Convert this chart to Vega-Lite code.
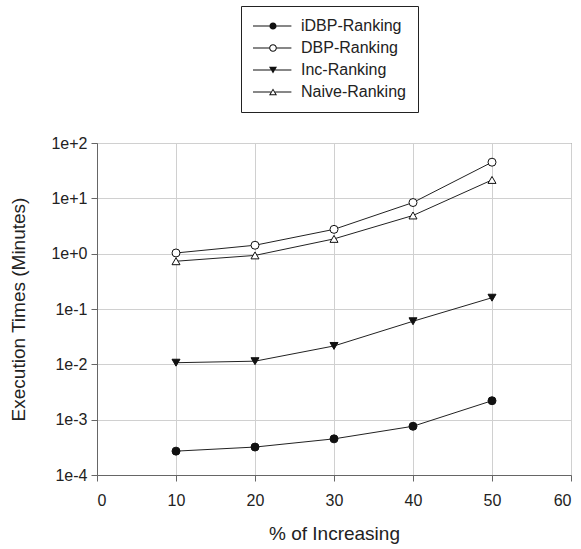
{
  "$schema": "https://vega.github.io/schema/vega-lite/v6.json",
  "width": 474,
  "height": 332,
  "autosize": "none",
  "padding": {"left": 97, "top": 143, "right": 10, "bottom": 74},
  "background": "white",
  "config": {
    "font": "Liberation Sans",
    "view": {"stroke": "#555", "strokeWidth": 1},
    "axis": {
      "domainColor": "#666",
      "tickColor": "#666",
      "tickSize": 6,
      "gridColor": "#d0d0d0",
      "gridWidth": 1,
      "labelFontSize": 16,
      "labelColor": "#222",
      "titleFontSize": 19,
      "titleFontWeight": "normal",
      "titleColor": "#222"
    }
  },
  "data": {
    "values": [
      {"series": "iDBP-Ranking", "pct": 10, "time": 0.00027},
      {"series": "iDBP-Ranking", "pct": 20, "time": 0.00032},
      {"series": "iDBP-Ranking", "pct": 30, "time": 0.00045},
      {"series": "iDBP-Ranking", "pct": 40, "time": 0.00076},
      {"series": "iDBP-Ranking", "pct": 50, "time": 0.0022},
      {"series": "DBP-Ranking", "pct": 10, "time": 1.03},
      {"series": "DBP-Ranking", "pct": 20, "time": 1.42},
      {"series": "DBP-Ranking", "pct": 30, "time": 2.75},
      {"series": "DBP-Ranking", "pct": 40, "time": 8.4},
      {"series": "DBP-Ranking", "pct": 50, "time": 45},
      {"series": "Inc-Ranking", "pct": 10, "time": 0.0107},
      {"series": "Inc-Ranking", "pct": 20, "time": 0.0114},
      {"series": "Inc-Ranking", "pct": 30, "time": 0.0215},
      {"series": "Inc-Ranking", "pct": 40, "time": 0.06},
      {"series": "Inc-Ranking", "pct": 50, "time": 0.16},
      {"series": "Naive-Ranking", "pct": 10, "time": 0.73},
      {"series": "Naive-Ranking", "pct": 20, "time": 0.93},
      {"series": "Naive-Ranking", "pct": 30, "time": 1.85},
      {"series": "Naive-Ranking", "pct": 40, "time": 4.9},
      {"series": "Naive-Ranking", "pct": 50, "time": 21.5}
    ]
  },
  "encoding": {
    "x": {
      "field": "pct",
      "type": "quantitative",
      "title": "% of Increasing",
      "scale": {"domain": [0, 60], "nice": false, "zero": false},
      "axis": {"values": [0, 10, 20, 30, 40, 50, 60], "labelPadding": 11, "titlePadding": 16}
    },
    "y": {
      "field": "time",
      "type": "quantitative",
      "title": "Execution Times (Minutes)",
      "scale": {"type": "log", "domain": [0.0001, 100], "nice": false},
      "axis": {
        "values": [0.0001, 0.001, 0.01, 0.1, 1, 10, 100],
        "labelExpr": "format(datum.value, '.0e')",
        "labelPadding": 4,
        "titlePadding": 22
      }
    }
  },
  "layer": [
    {
      "mark": {"type": "line", "color": "#222", "strokeWidth": 1},
      "encoding": {"detail": {"field": "series"}}
    },
    {
      "mark": {"type": "point", "size": 64, "stroke": "#111", "strokeWidth": 1, "opacity": 1},
      "encoding": {
        "shape": {
          "field": "series",
          "type": "nominal",
          "scale": {
            "domain": ["iDBP-Ranking", "DBP-Ranking", "Inc-Ranking", "Naive-Ranking"],
            "range": ["circle", "circle", "triangle-down", "triangle-up"]
          },
          "legend": null
        },
        "fill": {
          "field": "series",
          "type": "nominal",
          "scale": {
            "domain": ["iDBP-Ranking", "DBP-Ranking", "Inc-Ranking", "Naive-Ranking"],
            "range": ["#111", "white", "#111", "white"]
          },
          "legend": null
        }
      }
    },
    {
      "transform": [{"filter": "datum.pct > 1000"}],
      "mark": {"type": "point", "size": 64, "filled": true, "color": "#111", "strokeWidth": 0, "opacity": 1},
      "encoding": {
        "shape": {
          "field": "series",
          "type": "nominal",
          "scale": {
            "domain": ["iDBP-Ranking", "DBP-Ranking", "Inc-Ranking", "Naive-Ranking"],
            "range": [
              "M-2,-0.125H2.1V0.125H-2ZM3.9,-0.125H7.6V0.125H3.9ZM3.9,0A0.9,0.9,0,1,1,2.1,0A0.9,0.9,0,1,1,3.9,0Z",
              "M-2,-0.125H2.05V0.125H-2ZM3.95,-0.125H7.6V0.125H3.95ZM3.95,0A0.95,0.95,0,1,1,2.05,0A0.95,0.95,0,1,1,3.95,0ZM3.7,0A0.7,0.7,0,1,0,2.3,0A0.7,0.7,0,1,0,3.7,0Z",
              "M-2,-0.125H2.47V0.125H-2ZM3.53,-0.125H7.6V0.125H3.53ZM2,-0.8H4L3,0.9Z",
              "M-2,-0.125H2.47V0.125H-2ZM3.53,-0.125H7.6V0.125H3.53ZM2,0.8H4L3,-0.9ZM3.563,0.55H2.437L3,-0.407Z"
            ]
          },
          "legend": {
            "title": null,
            "orient": "none",
            "legendX": 144,
            "legendY": -137,
            "padding": 12,
            "strokeColor": "#222",
            "fillColor": "white",
            "symbolSize": 64,
            "symbolFillColor": "#111",
            "symbolStrokeWidth": 0,
            "labelFontSize": 16,
            "labelColor": "#222",
            "labelOffset": 32,
            "rowPadding": 6
          }
        }
      }
    }
  ],
  "resolve": {
    "scale": {"shape": "independent"},
    "legend": {"shape": "independent"}
  }
}
